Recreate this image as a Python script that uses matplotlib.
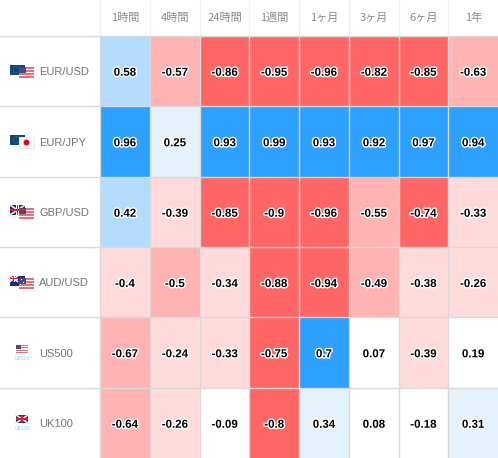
#encoding:utf-8
import matplotlib as mpl
mpl.use('Agg')
import matplotlib.pyplot as plt
import matplotlib.patheffects as pe
from matplotlib.patches import Rectangle, Circle
import numpy as np

periods = ['1時間', '4時間', '24時間', '1週間', '1ヶ月', '3ヶ月', '6ヶ月', '1年']
symbols = ['EUR/USD', 'EUR/JPY', 'GBP/USD', 'AUD/USD', 'US500', 'UK100']
eur_usd = [0.58, -0.57, -0.86, -0.95, -0.96, -0.82, -0.85, -0.63]
eur_jpy = [0.96, 0.25, 0.93, 0.99, 0.93, 0.92, 0.97, 0.94]
gbp_usd = [0.42, -0.39, -0.85, -0.9, -0.96, -0.55, -0.74, -0.33]
aud_usd = [-0.4, -0.5, -0.34, -0.88, -0.94, -0.49, -0.38, -0.26]
us500 = [-0.67, -0.24, -0.33, -0.75, 0.7, 0.07, -0.39, 0.19]
uk100 = [-0.64, -0.26, -0.09, -0.8, 0.34, 0.08, -0.18, 0.31]
rows = [eur_usd, eur_jpy, gbp_usd, aud_usd, us500, uk100]

# cell edges in pixels of the original table
xedges = [99.5, 149.5, 199.5, 249, 298.5, 348.5, 398.5, 447.5, 498]
yedges = [35.5, 106, 176.5, 247, 317, 387.5, 458]
LINE = '#d9d9d9'
JP = ['Noto Sans CJK JP', 'DejaVu Sans']
SANS = 'Liberation Sans'


def cell_color(v):
    if v >= 0.7:
        return '#2ea1ff'
    if v >= 0.4:
        return '#b3dcff'
    if v >= 0.2:
        return '#e3f2fd'
    if v > -0.2:
        return '#ffffff'
    if v > -0.45:
        return '#ffdada'
    if v > -0.7:
        return '#ffb3b3'
    return '#ff6666'


def rect(ax, x, y, w, h, c, z=3, **kw):
    ax.add_patch(Rectangle((x, y), w, h, facecolor=c, edgecolor='none', zorder=z, **kw))


def stripes(ax, x, y, w, h, alpha=1.0):
    rect(ax, x, y, w, h, '#ffffff', alpha=alpha)
    n = 7
    for i in range(0, n, 2):
        rect(ax, x, y + i * h / n, w, h / n, '#e0707a', z=3.1, alpha=alpha)
    rect(ax, x, y, w * 0.45, h * 0.5, '#4a4980', z=3.2, alpha=alpha)


def eu_flag(ax, x, y, w, h):
    rect(ax, x, y, w, h, '#0b4a78')
    ax.add_patch(Circle((x + w * 0.42, y + h * 0.5), h * 0.3, fill=False, edgecolor='#7d8a4a',
                        linewidth=0.5, linestyle=':', zorder=3.1))


def uk_flag(ax, x, y, w, h):
    rect(ax, x, y, w, h, '#27306b')
    ax.plot([x, x + w], [y, y + h], color='#e8e8f0', lw=1.2, zorder=3.1)
    ax.plot([x, x + w], [y + h, y], color='#e8e8f0', lw=1.2, zorder=3.1)
    rect(ax, x + w * 0.38, y, w * 0.24, h, '#ffffff', z=3.2)
    rect(ax, x, y + h * 0.36, w, h * 0.28, '#ffffff', z=3.2)
    rect(ax, x + w * 0.44, y, w * 0.12, h, '#d8202c', z=3.3)
    rect(ax, x, y + h * 0.42, w, h * 0.16, '#d8202c', z=3.3)


def au_flag(ax, x, y, w, h):
    rect(ax, x, y, w, h, '#1c2a78')
    uk_flag(ax, x, y, w * 0.5, h * 0.55)
    for dx, dy in [(0.7, 0.3), (0.85, 0.55), (0.68, 0.75)]:
        rect(ax, x + w * dx, y + h * dy, 1, 1, '#ffffff', z=3.4)


def jp_flag(ax, x, y, w, h):
    rect(ax, x, y, w, h, '#ffffff')
    ax.add_patch(Rectangle((x, y), w, h, fill=False, edgecolor='#e4e4e4', linewidth=0.5, zorder=3.1))
    ax.add_patch(Circle((x + w / 2, y + h / 2), 3, facecolor='#e5001c', edgecolor='none', zorder=3.2))


fig = plt.figure(figsize=(4.98, 4.58), dpi=100)
ax = fig.add_axes([0, 0, 1, 1])
ax.set_xlim(0, 498)
ax.set_ylim(458, 0)
ax.axis('off')

# heat cells
for r, vals in enumerate(rows):
    for c, v in enumerate(vals):
        rect(ax, xedges[c], yedges[r], xedges[c + 1] - xedges[c], yedges[r + 1] - yedges[r], cell_color(v), z=1)
        ax.text((xedges[c] + xedges[c + 1]) / 2 + 0.5, (yedges[r] + yedges[r + 1]) / 2 + 2, str(v),
                ha='center', va='center', fontsize=8.3, fontweight='bold', family=SANS, color='black', zorder=5,
                path_effects=[pe.withStroke(linewidth=2, foreground='white')])

# grid lines
for i, x in enumerate(xedges[:-1]):
    ax.plot([x, x], [0, 36], color='#f0f0f0', lw=1, zorder=2)
    ax.plot([x, x], [36, 458], color=LINE, lw=1, zorder=2)
for y in yedges[:-1]:
    ax.plot([0, 498], [y, y], color=LINE, lw=1, zorder=2)

# header
for c, name in enumerate(periods):
    ax.text((xedges[c] + xedges[c + 1]) / 2 + 0.5, 18, name, ha='center', va='center',
            fontsize=8, family=JP, color='#8a8a8a')

# symbol labels
for r, name in enumerate(symbols):
    ax.text(39, (yedges[r] + yedges[r + 1]) / 2 + 1.5, name, ha='left', va='center',
            fontsize=8, family=SANS, color='#757575')

# flags
eu_flag(ax, 10, 65, 15, 10)
stripes(ax, 19, 67, 15, 11)
eu_flag(ax, 10, 135, 15, 10)
jp_flag(ax, 19, 137, 15, 11)
uk_flag(ax, 10, 205, 15, 10)
stripes(ax, 19, 208, 15, 11)
au_flag(ax, 10, 276, 15, 10)
stripes(ax, 19, 278, 15, 11)
stripes(ax, 16, 345, 12, 8)
ax.text(22, 358, 'US500', ha='center', va='center', fontsize=3.6, family=SANS, color='#7fd6ff')
uk_flag(ax, 16, 415, 12, 8)
ax.text(22, 428, 'UK100', ha='center', va='center', fontsize=3.6, family=SANS, color='#7fd6ff')

plt.savefig('out.png', dpi=100)
print('drawing successed!')
